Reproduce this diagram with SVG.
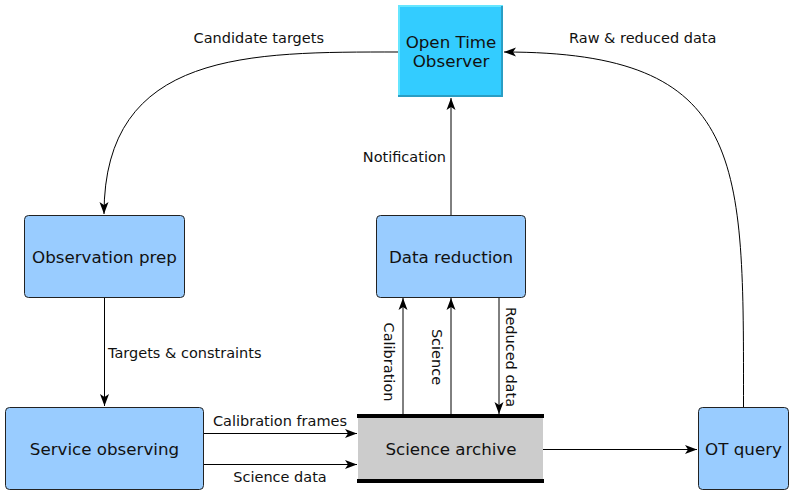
<svg xmlns="http://www.w3.org/2000/svg" width="790" height="490" viewBox="0 0 790 490">
<defs>
<marker id="arr" markerWidth="12" markerHeight="10" refX="12" refY="5" orient="auto" markerUnits="userSpaceOnUse">
<path d="M0,0.5 L12,5 L0,9.5 L3,5 z" fill="#000"/>
</marker>
<style>
.n{fill:#99ccff;stroke:#222;stroke-width:1}
.t{font-family:"DejaVu Sans",sans-serif;font-size:16.7px;fill:#111;text-anchor:middle}
.l{font-family:"DejaVu Sans",sans-serif;font-size:14.5px;fill:#111}
.c{fill:none;stroke:#000;stroke-width:1;marker-end:url(#arr)}
</style>
</defs>
<rect width="790" height="490" fill="#fff"/>
<g id="connectors">
<path class="c" d="M398,52 C250,52 104,50 104,214"/>
<path class="c" d="M743.5,407 C743.5,160 748,52 504,52"/>
<path class="c" d="M451,215 L451,98"/>
<path class="c" d="M104.5,297 L104.5,406"/>
<path class="c" d="M203,433.5 L357,433.5"/>
<path class="c" d="M203,464.5 L357,464.5"/>
<path class="c" d="M403,416 L403,298"/>
<path class="c" d="M451,416 L451,298"/>
<path class="c" d="M499,297 L499,414"/>
<path class="c" d="M543,449.5 L697,449.5"/>
<text class="l" x="324" y="43" text-anchor="end">Candidate targets</text>
<text class="l" x="569" y="43">Raw &amp; reduced data</text>
<text class="l" x="446" y="162" text-anchor="end">Notification</text>
<text class="l" x="108" y="358">Targets &amp; constraints</text>
<text class="l" x="280" y="426" text-anchor="middle">Calibration frames</text>
<text class="l" x="280" y="482" text-anchor="middle">Science data</text>
<text class="l" text-anchor="middle" transform="translate(384,362) rotate(90)">Calibration</text>
<text class="l" text-anchor="middle" transform="translate(432,357) rotate(90)">Science</text>
<text class="l" text-anchor="middle" transform="translate(506,357) rotate(90)">Reduced data</text>
</g>
<g id="open-time-observer">
<rect x="398" y="5" width="105" height="92" fill="#33ccff"/>
<path d="M399,97 L399,6 L503,6" fill="none" stroke="#66e6ff" stroke-width="2"/>
<path d="M502,6 L502,96 L398,96" fill="none" stroke="#2a9ec4" stroke-width="2"/>
<text class="t" x="451" y="48">Open Time</text>
<text class="t" x="451" y="67">Observer</text>
</g>
<g id="observation-prep">
<rect class="n" x="24.5" y="215.5" width="160" height="82" rx="4"/>
<text class="t" x="104.5" y="263">Observation prep</text>
</g>
<g id="data-reduction">
<rect class="n" x="376.5" y="215.5" width="149" height="82" rx="4"/>
<text class="t" x="451" y="263">Data reduction</text>
</g>
<g id="service-observing">
<rect class="n" x="5.5" y="407.5" width="198" height="82" rx="4"/>
<text class="t" x="104.5" y="455">Service observing</text>
</g>
<g id="ot-query">
<rect class="n" x="698.5" y="407.5" width="90" height="82" rx="4"/>
<text class="t" x="743.5" y="455">OT query</text>
</g>
<g id="science-archive">
<rect x="358" y="416" width="185" height="65" fill="#cccccc"/>
<line x1="357" y1="416" x2="544" y2="416" stroke="#000" stroke-width="4"/>
<line x1="357" y1="481" x2="544" y2="481" stroke="#000" stroke-width="4"/>
<text class="t" x="451" y="455">Science archive</text>
</g>
</svg>
